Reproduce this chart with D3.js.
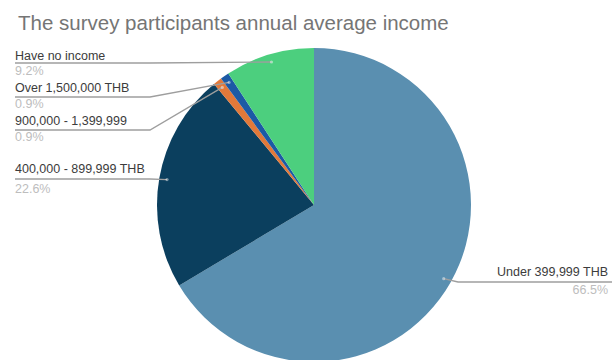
<!DOCTYPE html>
<html>
<head>
<meta charset="utf-8">
<script src="https://cdn.jsdelivr.net/npm/d3@7"></script>
<style>
  html, body { margin: 0; padding: 0; background: #fff; }
  svg { display: block; font-family: "Liberation Sans", Arial, sans-serif; }
</style>
</head>
<body>
<svg id="chart" width="612" height="360"></svg>
<script>
// Income brackets, in clockwise order starting from 12 o'clock
const categories = [
  "Under 399,999 THB",
  "400,000 - 899,999 THB",
  "900,000 - 1,399,999",
  "Over 1,500,000 THB",
  "Have no income"
];
const shares = [66.5, 22.6, 0.9, 0.9, 9.2];
const colors = ["#5a8fb0", "#0b3f5e", "#e2793a", "#1c5aa5", "#4ccf7e"];
const titleText = "The survey participants annual average income";

// Label placement for each slice (same order as categories)
const labelLayout = [
  { side: "right", textY: 276, lineY: 282, pctY: 294, elbowX: 458 },
  { side: "left",  textY: 173, lineY: 179, pctY: 193, elbowX: 150 },
  { side: "left",  textY: 125, lineY: 130, pctY: 141, elbowX: 150 },
  { side: "left",  textY: 92,  lineY: 97,  pctY: 108, elbowX: 150 },
  { side: "left",  textY: 60,  lineY: 63,  pctY: 75,  elbowX: 150 }
];

const width = 612, height = 360;
const cx = 314, cy = 205, radius = 157;
const leftX = 15, rightX = 608;

const svg = d3.select("#chart");

svg.append("text")
  .attr("x", 18).attr("y", 30)
  .attr("font-size", 20.5)
  .attr("fill", "#757575")
  .text(titleText);

const data = categories.map((c, i) => ({ name: c, value: shares[i], color: colors[i], layout: labelLayout[i] }));

const pie = d3.pie().sort(null).value(d => d.value);
const arcs = pie(data);

const arc = d3.arc().innerRadius(0).outerRadius(radius);
const anchorArc = d3.arc().innerRadius(radius * 0.95).outerRadius(radius * 0.95);

const g = svg.append("g").attr("transform", `translate(${cx},${cy})`);

g.selectAll("path.slice")
  .data(arcs)
  .join("path")
  .attr("class", "slice")
  .attr("d", arc)
  .attr("fill", d => d.data.color);

// Leader lines and labels
const labels = svg.append("g");
arcs.forEach(d => {
  const L = d.data.layout;
  const [ax, ay] = anchorArc.centroid(d);
  const px = cx + ax, py = cy + ay;
  let path;
  if (L.side === "left") {
    path = `M${leftX},${L.lineY}H${L.elbowX}L${px},${py}`;
  } else {
    path = `M${px},${py}L${L.elbowX},${L.lineY}H${width}`;
  }
  labels.append("path")
    .attr("d", path)
    .attr("fill", "none")
    .attr("stroke", "#9e9e9e")
    .attr("stroke-width", 1.3);
  labels.append("circle")
    .attr("cx", px).attr("cy", py).attr("r", 1.6)
    .attr("fill", "#ffffff").attr("fill-opacity", 0.45);

  const anchor = L.side === "left" ? "start" : "end";
  const tx = L.side === "left" ? leftX : rightX;
  labels.append("text")
    .attr("x", tx).attr("y", L.textY)
    .attr("text-anchor", anchor)
    .attr("font-size", 12.5)
    .attr("fill", "#3c3c3c")
    .text(d.data.name);
  labels.append("text")
    .attr("x", tx).attr("y", L.pctY)
    .attr("text-anchor", anchor)
    .attr("font-size", 12.5)
    .attr("fill", "#bdbdbd")
    .text(d.data.value.toFixed(1) + "%");
});
</script>
</body>
</html>
